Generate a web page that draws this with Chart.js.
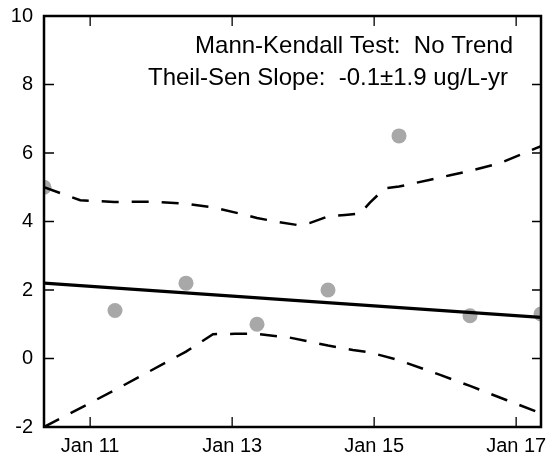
<!DOCTYPE html>
<html>
<head>
<meta charset="utf-8">
<script src="https://cdn.jsdelivr.net/npm/chart.js@4"></script>
<style>
  html, body { margin: 0; padding: 0; background: #fff; }
  #wrap { width: 552px; height: 459px; }
</style>
</head>
<body>
<div id="wrap"><canvas id="c" width="552" height="459"></canvas></div>
<script>
// Sample dates (decimal years) and concentrations
const sampleYears = [2010.35, 2011.35, 2012.35, 2013.35, 2014.35, 2015.35, 2016.35, 2017.35];
const concentrations = [5.0, 1.4, 2.2, 1.0, 2.0, 6.5, 1.25, 1.3];

// Theil-Sen trend line
const trendYears = [2010.35, 2017.35];
const trendValues = [2.2, 1.2];

// Upper confidence band
const upperYears = [2010.35, 2010.86, 2011.34, 2011.84, 2012.35, 2012.76, 2013.11, 2013.35, 2013.67, 2013.91, 2014.10, 2014.35, 2014.59, 2014.80, 2014.94, 2015.15, 2015.35, 2015.79, 2016.07, 2016.35, 2016.77, 2017.06, 2017.35];
const upperValues = [5.0, 4.62, 4.57, 4.58, 4.52, 4.40, 4.23, 4.10, 3.98, 3.90, 3.96, 4.15, 4.19, 4.23, 4.55, 4.97, 5.02, 5.22, 5.35, 5.48, 5.70, 5.95, 6.2];

// Lower confidence band
const lowerYears = [2010.35, 2011.34, 2012.35, 2012.73, 2013.04, 2013.35, 2013.81, 2014.35, 2014.70, 2014.94, 2015.35, 2015.93, 2016.35, 2016.87, 2017.35];
const lowerValues = [-2.0, -0.93, 0.2, 0.71, 0.72, 0.72, 0.61, 0.38, 0.25, 0.18, -0.05, -0.48, -0.8, -1.22, -1.6];

// Axis ticks
const xTickYears = [2011, 2013, 2015, 2017];
const xTickLabels = ['Jan 11', 'Jan 13', 'Jan 15', 'Jan 17'];
const yMin = -2, yMax = 10, yStep = 2;

const annotationLines = ['Mann-Kendall Test:  No Trend', 'Theil-Sen Slope:  -0.1\u00b11.9 ug/L-yr'];

const FONT = '"Liberation Sans", Arial, Helvetica, sans-serif';

const pts = (xs, ys) => xs.map((x, i) => ({ x: x, y: ys[i] }));

const framePlugin = {
  id: 'frame',
  afterDatasetsDraw(chart) {
    const ctx = chart.ctx;
    const a = chart.chartArea;
    const xs = chart.scales.x, ys = chart.scales.y;
    ctx.save();
    ctx.strokeStyle = '#000';
    ctx.lineWidth = 1.3;
    ctx.beginPath();
    ys.ticks.forEach(t => {
      const y = ys.getPixelForValue(t.value);
      ctx.moveTo(a.left, y); ctx.lineTo(a.left + 10, y);
      ctx.moveTo(a.right, y); ctx.lineTo(a.right - 9, y);
    });
    xs.ticks.forEach(t => {
      const x = xs.getPixelForValue(t.value);
      ctx.moveTo(x, a.bottom); ctx.lineTo(x, a.bottom - 10);
      ctx.moveTo(x, a.top); ctx.lineTo(x, a.top + 10);
    });
    ctx.stroke();
    ctx.lineWidth = 2.5;
    ctx.strokeRect(a.left, a.top, a.right - a.left, a.bottom - a.top);
    // annotation text
    ctx.fillStyle = '#000';
    ctx.font = '24px ' + FONT;
    ctx.textAlign = 'right';
    ctx.textBaseline = 'alphabetic';
    ctx.fillText(annotationLines[0], a.right - 28, a.top + 37);
    ctx.fillText(annotationLines[1], a.right - 33, a.top + 69);
    ctx.restore();
  }
};

new Chart(document.getElementById('c'), {
  type: 'scatter',
  data: {
    datasets: [
      {
        label: 'Trend', type: 'line', data: pts(trendYears, trendValues),
        borderColor: '#000', borderWidth: 3.2, pointRadius: 0, tension: 0, order: 0, clip: 0
      },
      {
        label: 'Upper', type: 'line', data: pts(upperYears, upperValues),
        borderColor: '#000', borderWidth: 2.5, borderDash: [17, 13], pointRadius: 0, tension: 0, order: 1, clip: 0
      },
      {
        label: 'Lower', type: 'line', data: pts(lowerYears, lowerValues),
        borderColor: '#000', borderWidth: 2.5, borderDash: [17, 13], pointRadius: 0, tension: 0, order: 2, clip: 0
      },
      {
        label: 'Samples', data: pts(sampleYears, concentrations),
        backgroundColor: '#a8a8a8', borderWidth: 0, pointRadius: 7.5, order: 10, clip: 0
      }
    ]
  },
  options: {
    responsive: false,
    animation: false,
    devicePixelRatio: 1,
    layout: { padding: { left: 0, top: 16, right: 11, bottom: 0 } },
    plugins: { legend: { display: false }, tooltip: { enabled: false } },
    scales: {
      x: {
        type: 'linear',
        min: sampleYears[0], max: sampleYears[sampleYears.length - 1],
        afterBuildTicks(scale) { scale.ticks = xTickYears.map(v => ({ value: v })); },
        afterFit(scale) { scale.height = 32; scale.paddingLeft = 0; scale.paddingRight = 0; },
        grid: { display: false, drawTicks: false },
        border: { display: false },
        ticks: {
          color: '#000', font: { family: FONT, size: 20 }, padding: 7, maxRotation: 0, autoSkip: false,
          callback(v) { const i = xTickYears.indexOf(v); return i >= 0 ? xTickLabels[i] : ''; }
        }
      },
      y: {
        min: yMin, max: yMax,
        afterFit(scale) { scale.width = 44; scale.paddingTop = 0; scale.paddingBottom = 0; },
        grid: { display: false, drawTicks: false },
        border: { display: false },
        ticks: { stepSize: yStep, color: '#000', font: { family: FONT, size: 20 }, padding: 11 }
      }
    }
  },
  plugins: [framePlugin]
});
</script>
</body>
</html>
